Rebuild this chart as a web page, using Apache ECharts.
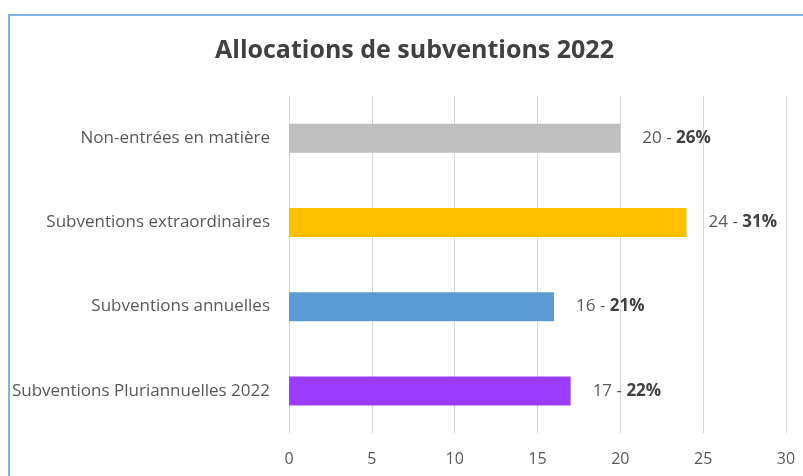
<!DOCTYPE html>
<html>
<head>
<meta charset="utf-8">
<script src="https://cdn.jsdelivr.net/npm/echarts@6/dist/echarts.min.js"></script>
<style>
  html, body { margin: 0; padding: 0; background: #fff; }
  #chart { width: 803px; height: 476px; }
</style>
</head>
<body>
<div id="chart"></div>
<script>
var categories = ['Non-entrées en matière', 'Subventions extraordinaires', 'Subventions annuelles', 'Subventions Pluriannuelles 2022'];
var values = [20, 24, 16, 17];
var percents = [26, 31, 21, 22];
var barColors = ['#bfbfbf', '#ffc000', '#5b9bd5', '#9b3cff'];
var xTicks = [0, 5, 10, 15, 20, 25, 30];

var fontFam = '"Open Sans", Lato, sans-serif';

var myChart = echarts.init(document.getElementById('chart'));
var option = {
  backgroundColor: '#fff',
  textStyle: { fontFamily: fontFam },
  title: {
    text: 'Allocations de subventions 2022',
    left: 210,
    top: 33,
    textStyle: { fontSize: 25, fontWeight: 'bold', color: '#404040', fontFamily: fontFam }
  },
  graphic: [{
    type: 'rect',
    shape: { x: 9, y: 15, width: 1000, height: 1000 },
    style: { fill: 'none', stroke: '#7fb2e5', lineWidth: 2 },
    silent: true
  }],
  grid: { left: 289, right: 17, top: 96, bottom: 43 },
  xAxis: {
    type: 'value',
    min: xTicks[0],
    max: xTicks[xTicks.length - 1],
    interval: 5,
    axisLine: { show: false },
    axisTick: { show: false },
    axisLabel: { color: '#595959', fontSize: 16, margin: 18, fontFamily: fontFam },
    splitLine: { lineStyle: { color: '#d9d9d9', width: 1 } }
  },
  yAxis: {
    type: 'category',
    inverse: true,
    data: categories,
    axisLine: { show: false },
    axisTick: { show: false },
    axisLabel: { color: '#595959', fontSize: 17, margin: 19, fontFamily: fontFam }
  },
  series: [{
    type: 'bar',
    barWidth: 29,
    data: values.map(function (v, i) {
      return { value: v, itemStyle: { color: barColors[i] } };
    }),
    label: {
      show: true,
      position: 'right',
      distance: 22,
      formatter: function (p) {
        return '{v|' + p.value + ' - }{p|' + percents[p.dataIndex] + '%}';
      },
      rich: {
        v: { color: '#595959', fontSize: 17, fontFamily: fontFam },
        p: { color: '#404040', fontSize: 17, fontWeight: 'bold', fontFamily: fontFam }
      }
    }
  }]
};
myChart.setOption(option);
</script>
</body>
</html>
